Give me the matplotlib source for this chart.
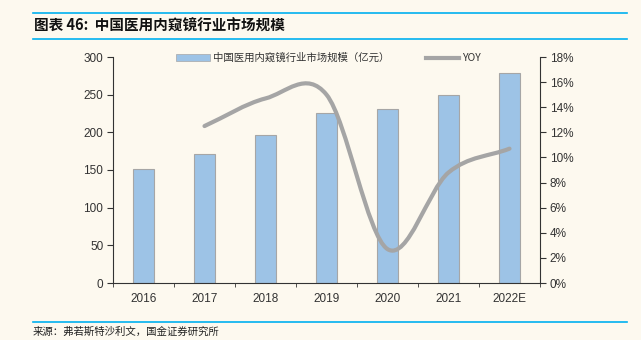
import matplotlib
matplotlib.use("Agg")
import matplotlib.pyplot as plt
from matplotlib.path import Path
from matplotlib.patches import PathPatch
from matplotlib.lines import Line2D
from matplotlib.ticker import FuncFormatter

plt.rcParams['font.family'] = ['Liberation Sans', 'Noto Sans CJK SC', 'DejaVu Sans']

years = ["2016", "2017", "2018", "2019", "2020", "2021", "2022E"]
market = [151, 171, 196, 225, 231, 250, 279]          # 亿元
yoy_years = ["2017", "2018", "2019", "2020", "2021", "2022E"]
yoy = [12.5, 14.7, 15.0, 2.7, 8.8, 10.7]               # %

bg = "#FDF9EF"
fig = plt.figure(figsize=(6.41, 3.40), dpi=100, facecolor=bg)
ax = fig.add_axes([113 / 641, 57 / 340, 427 / 641, 226 / 340])
ax.set_facecolor(bg)

x = list(range(len(years)))
ax.bar(x, market, width=0.33, color="#9DC3E6", edgecolor="#A6A6A6", linewidth=0.8, zorder=2)
ax.set_xlim(-0.5, len(years) - 0.5)
ax.set_ylim(0, 300)
ax.set_yticks(range(0, 301, 50))
ax.set_xticks(x)
ax.set_xticklabels(years)
ax.set_xticks([i - 0.5 for i in x] + [len(years) - 0.5], minor=True)
ax.tick_params(axis="x", which="major", length=0, pad=7, labelsize=8.5, colors="#333333")
ax.tick_params(axis="x", which="minor", length=3, direction="out", color="#333333")
ax.tick_params(axis="y", length=4, direction="out", labelsize=8.5, colors="#333333", pad=3)
for s in ["top", "right"]:
    ax.spines[s].set_visible(False)
ax.spines["left"].set_color("#333333")
ax.spines["bottom"].set_color("#333333")

ax2 = ax.twinx()
ax2.set_ylim(0, 18)
ax2.set_yticks(range(0, 19, 2))
ax2.yaxis.set_major_formatter(FuncFormatter(lambda v, p: f"{int(v)}%"))
ax2.tick_params(axis="y", length=4, direction="out", labelsize=8.5, colors="#333333", pad=3)
for s in ["top", "left", "bottom"]:
    ax2.spines[s].set_visible(False)
ax2.spines["right"].set_color("#333333")

# smooth line (Catmull-Rom style bezier, like Excel's smoothed line)
px = [years.index(y) for y in yoy_years]
py = yoy
n = len(px)
verts = [(px[0], py[0])]
codes = [Path.MOVETO]
def tangent(i):
    a = max(i - 1, 0)
    b = min(i + 1, n - 1)
    return ((px[b] - px[a]) / (b - a), (py[b] - py[a]) / (b - a))
for i in range(n - 1):
    t0 = tangent(i)
    t1 = tangent(i + 1)
    verts += [(px[i] + t0[0] / 3, py[i] + t0[1] / 3),
              (px[i + 1] - t1[0] / 3, py[i + 1] - t1[1] / 3),
              (px[i + 1], py[i + 1])]
    codes += [Path.CURVE4] * 3
ax2.add_patch(PathPatch(Path(verts, codes), facecolor="none", edgecolor="#A5A5A5",
                        linewidth=3, capstyle="round", zorder=3))

# legend
handles = [plt.Rectangle((0, 0), 1, 1, facecolor="#9DC3E6", edgecolor="#A6A6A6", linewidth=0.5),
           Line2D([0], [0], color="#A5A5A5", linewidth=3)]
leg = ax2.legend(handles, ["中国医用内窥镜行业市场规模（亿元）", "YOY"], loc="upper center",
                 bbox_to_anchor=(0.505, 1.06), ncol=2, frameon=False, fontsize=7.5,
                 handlelength=3.2, handleheight=0.55, columnspacing=3.5, handletextpad=0.3)
for t in leg.get_texts():
    t.set_family(['Noto Sans CJK SC', 'DejaVu Sans'])
    t.set_color("#333333")

# title and source
line_c = "#00B0F0"
fig.add_artist(Line2D([33 / 641, 627 / 641], [1 - 12.5 / 340] * 2, color=line_c, linewidth=1.2))
fig.add_artist(Line2D([33 / 641, 627 / 641], [1 - 39 / 340] * 2, color=line_c, linewidth=1.2))
fig.add_artist(Line2D([33 / 641, 627 / 641], [1 - 322 / 340] * 2, color=line_c, linewidth=1.2))
fig.text(34 / 641, 1 - 26 / 340, "图表 46:  中国医用内窥镜行业市场规模", fontsize=10.5, fontweight="bold",
         style="italic", va="center", ha="left", family=['Noto Sans CJK SC', 'DejaVu Sans'], color="#111111")
fig.text(33 / 641, 1 - 332 / 340, "来源：弗若斯特沙利文，国金证券研究所", fontsize=7.5, va="center", ha="left",
         family=['Noto Sans CJK SC', 'DejaVu Sans'], color="#222222")

fig.savefig("out.png", dpi=100, facecolor=bg)
